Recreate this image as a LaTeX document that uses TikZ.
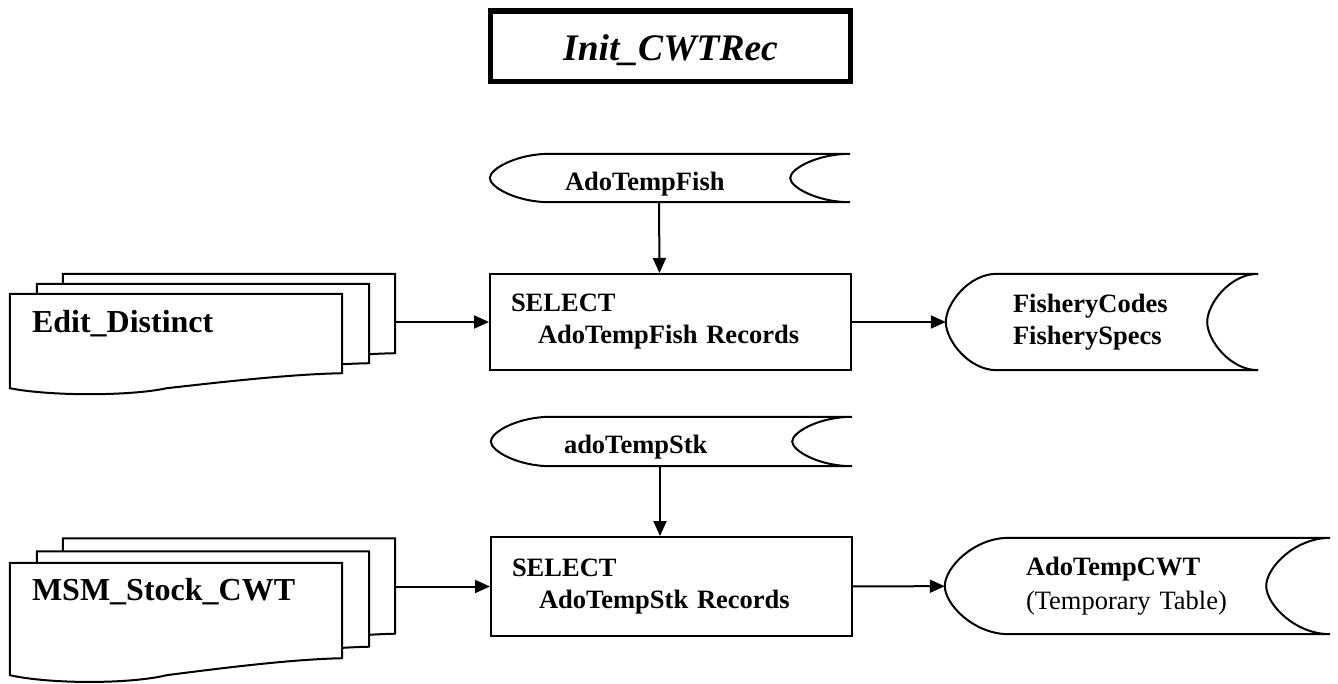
\documentclass[tikz,border=0pt]{standalone}
\usepackage{fontspec}
\setmainfont{Liberation Serif}
\usetikzlibrary{arrows.meta,positioning,calc,backgrounds}

% page of a document stack, #2 scales the wavy bottom
\newcommand{\docpage}[2]{%
  \draw[pageline] (#1.north west) -- (#1.north east) -- (#1.south east)
    .. controls ([xshift=-52pt,yshift=-1pt*#2]#1.south east) and ([xshift=210pt,yshift=-9pt*#2]#1.south west)
    .. ([xshift=157pt,yshift=-15pt*#2]#1.south west)
    .. controls ([xshift=120pt,yshift=-23pt*#2]#1.south west) and ([xshift=40pt,yshift=-23pt*#2]#1.south west)
    .. ([yshift=-15pt*#2]#1.south west) -- cycle;}

% stored data outline, #2 is the depth of the curved ends
\newcommand{\storedshape}[2]{%
  \draw[line width=2pt] (#1.north east) -- ([xshift=#2]#1.north west)
    .. controls ([xshift=0.45*#2]#1.north west) and ($(#1.west)!.38!(#1.north west)$) .. (#1.west)
    .. controls ($(#1.west)!.38!(#1.south west)$) and ([xshift=0.45*#2]#1.south west) .. ([xshift=#2]#1.south west)
    -- (#1.south east)
    .. controls ([xshift=-0.55*#2]#1.south east) and ($(#1.east)!.38!(#1.south east)+(-#2,0)$) .. ([xshift=-#2]#1.east)
    .. controls ($(#1.east)!.38!(#1.north east)+(-#2,0)$) and ([xshift=-0.55*#2]#1.north east) .. cycle;}

\tikzset{
  boxfont/.style={font=\fontsize{26.5}{32}\selectfont\bfseries},
  titlebox/.style={draw, line width=5.5pt, minimum width=360pt, minimum height=70.5pt,
    font=\fontsize{37.5}{44}\selectfont\bfseries\itshape, text height=30pt, text depth=2pt},
  process/.style={draw, line width=2pt, boxfont, align=left, inner xsep=21pt, text width=319pt, minimum width=361pt},
  stored/.style={boxfont, align=left, inner ysep=0pt},
  docpage/.style={minimum width=332pt, inner sep=0pt},
  doctext/.style={font=\fontsize{32}{38}\selectfont\bfseries, align=left, inner xsep=22pt, text width=288pt},
  pageline/.style={draw, fill=white, line width=2pt},
  flow/.style={->, line width=2pt}
}

\begin{document}
\begin{tikzpicture}[x=1pt,y=-1pt,>={Triangle[length=15pt,width=13pt]}]
  \useasboundingbox (0,0) rectangle (1338,683);

  \node[titlebox] (title) at (670.5,46) {Init\_CWTRec};

  % upper row
  \node[stored, minimum width=360pt, minimum height=48pt, inner xsep=75pt, text width=210pt,
        text height=26pt, text depth=2pt] (fish) at (670,178) {AdoTempFish};
  \node[process, minimum height=96pt] (sel1) at (670.5,322) {SELECT\\\hspace*{27pt}AdoTempFish Records};
  \node[stored, minimum width=312pt, minimum height=96pt, inner xsep=67pt, text width=178pt]
        (codes) at (1102,322) {FisheryCodes\\FisherySpecs};
  \node[docpage, minimum height=79pt] (edit3) at (229,313.5) {};
  \node[docpage, minimum height=79pt] (edit2) at (203,323.5) {};
  \node[docpage, doctext, minimum height=79pt, text height=22pt, text depth=25pt]
        (edit) at (176,333.5) {Edit\_Distinct};

  % lower row
  \node[stored, minimum width=361pt, minimum height=49pt, inner xsep=73pt, text width=215pt,
        text height=25pt, text depth=2pt] (stk) at (671.5,441.5) {adoTempStk};
  \node[process, minimum height=99pt] (sel2) at (671.5,586.5) {SELECT\\\hspace*{27pt}AdoTempStk Records};
  \node[stored, minimum width=385pt, minimum height=96pt, inner xsep=81pt, text width=223pt]
        (cwt) at (1137.5,586) {AdoTempCWT\\[2pt]\mdseries (Temporary Table)};
  \node[docpage, minimum height=95pt] (msm3) at (229,586) {};
  \node[docpage, minimum height=95pt] (msm2) at (203,599) {};
  \node[docpage, doctext, minimum height=95pt, text height=22pt, text depth=43pt]
        (msm) at (176,610.5) {MSM\_Stock\_CWT};

  \begin{scope}[on background layer]
    \docpage{edit3}{1} \docpage{edit2}{1} \docpage{edit}{1}
    \docpage{msm3}{1.13} \docpage{msm2}{1.13} \docpage{msm}{1.13}
  \end{scope}

  \storedshape{fish}{60}
  \storedshape{codes}{51}
  \storedshape{stk}{60}
  \storedshape{cwt}{64}

  \path[flow]
    ([xshift=-11pt]fish.south) edge ([xshift=-11pt]sel1.north)
    (sel1.west -| edit3.east) edge (sel1.west)
    (sel1) edge (codes)
    ([xshift=-11.5pt]stk.south) edge ([xshift=-11.5pt]sel2.north)
    (sel2.west -| msm3.east) edge (sel2.west)
    (sel2) edge (cwt);
\end{tikzpicture}
\end{document}
